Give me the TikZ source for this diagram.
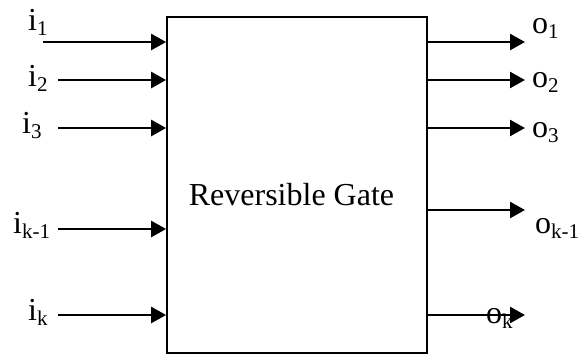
\documentclass[tikz,border=0pt]{standalone}
\usepackage{fontspec}
\setmainfont{Liberation Serif}
\usetikzlibrary{arrows.meta}
% lowered, smaller index for the port names
\newcommand{\portidx}[1]{\raisebox{-5pt}{\fontsize{21}{21}\selectfont #1}}
\begin{document}
\begin{tikzpicture}[x=1pt,y=-1pt,
  wire/.style={line width=2.6pt,-{Triangle[length=15pt,width=16pt]}},
  gatebox/.style={draw,line width=1.8pt,inner sep=0pt},
  port/.style={anchor=base west,inner sep=0pt,font=\fontsize{32}{38}\selectfont},
  title/.style={anchor=base,inner sep=0pt,font=\fontsize{32}{38}\selectfont}]
\useasboundingbox (0,0) rectangle (579,354);

% the gate body
\node[gatebox,minimum width=260pt,minimum height=336pt] (gate) at (297,185) {};
\node[title] (name) at (291.5,205) {Reversible Gate};

% input wires
\coordinate (in1) at (43,42);
\coordinate (in2) at (58,80);
\coordinate (in3) at (58,128);
\coordinate (in4) at (58,229);
\coordinate (in5) at (58,315);
\foreach \k in {1,...,5}
  \draw[wire] (in\k) -- (in\k -| gate.west);

% output wires
\coordinate (out1) at (525,42);
\coordinate (out2) at (525,80);
\coordinate (out3) at (525,128);
\coordinate (out4) at (525,210);
\coordinate (out5) at (525,315);
\foreach \k in {1,...,5}
  \draw[wire] (out\k -| gate.east) -- (out\k);

% port names
\node[port] (li1) at (28,30) {i\portidx{1}};
\node[port] (li2) at (28,86) {i\portidx{2}};
\node[port] (li3) at (22,133) {i\portidx{3}};
\node[port] (li4) at (13,233) {i\portidx{k-1}};
\node[port] (li5) at (28,320) {i\portidx{k}};

\node[port] (lo1) at (532,33) {o\portidx{1}};
\node[port] (lo2) at (532,87) {o\portidx{2}};
\node[port] (lo3) at (532,137) {o\portidx{3}};
\node[port] (lo4) at (535,233) {o\portidx{k-1}};
\node[port] (lo5) at (486,323) {o\portidx{k}};
\end{tikzpicture}
\end{document}
